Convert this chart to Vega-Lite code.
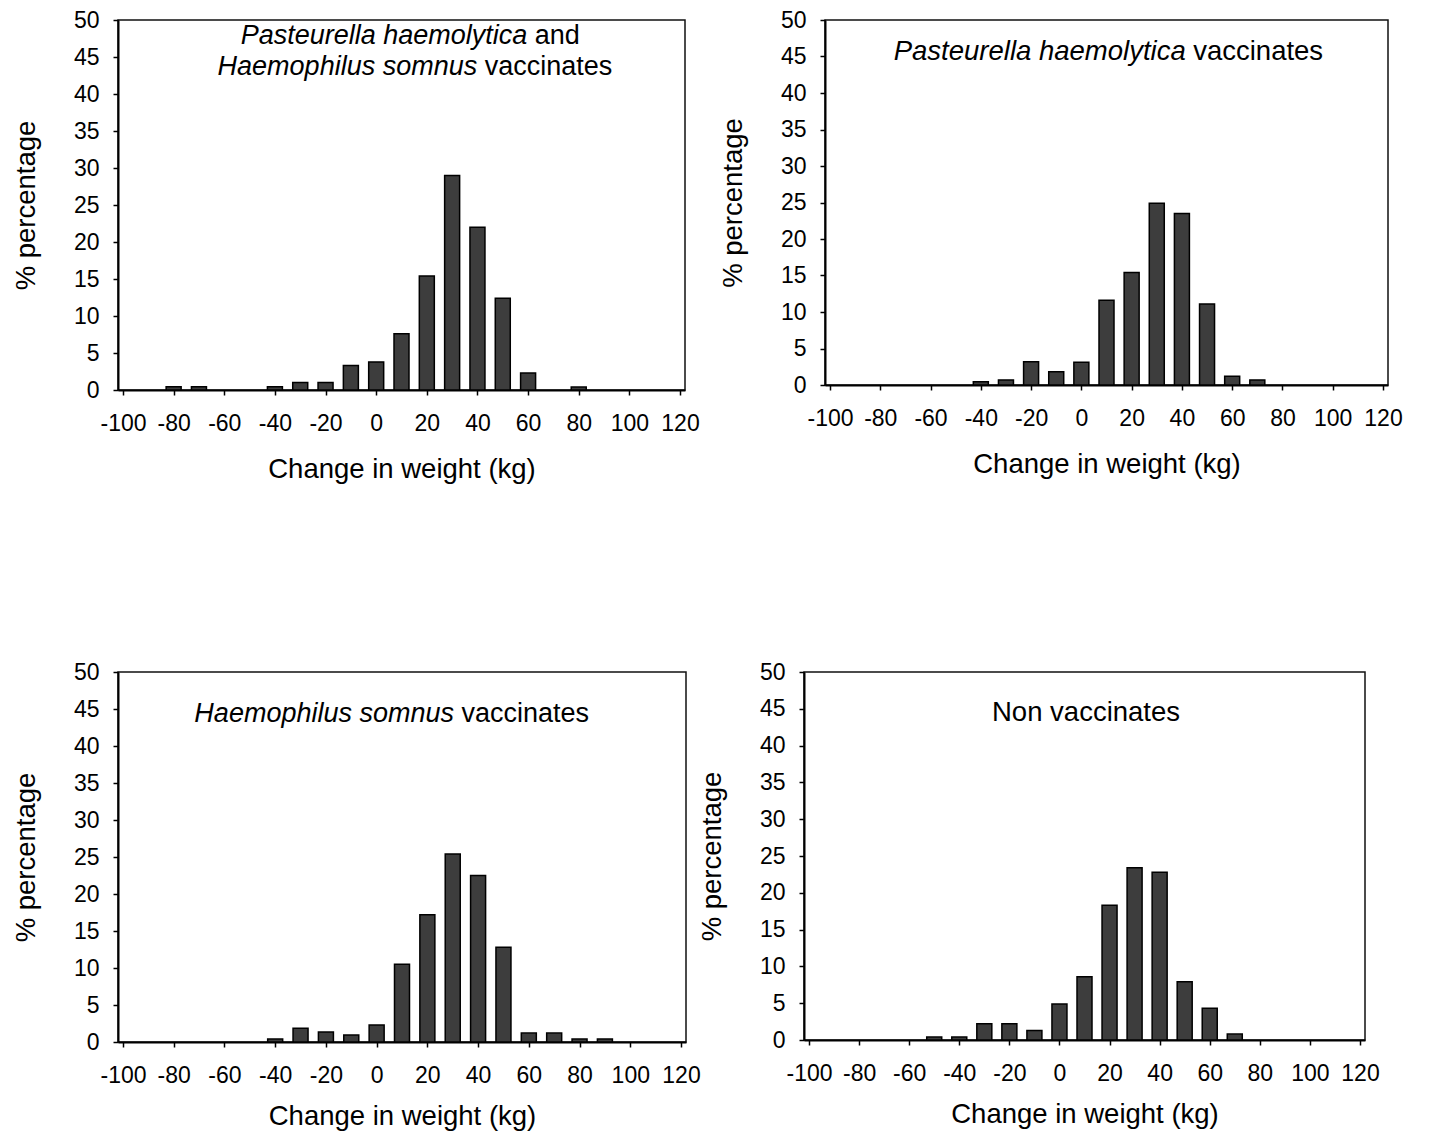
{
  "$schema": "https://vega.github.io/schema/vega-lite/v6.json",
  "background": "white",
  "padding": {"left": 11, "top": 8, "right": 5, "bottom": 0},
  "datasets": {
    "bars": [
      {"panel": 1, "change": -80, "pct": 0.45},
      {"panel": 1, "change": -70, "pct": 0.45},
      {"panel": 1, "change": -40, "pct": 0.45},
      {"panel": 1, "change": -30, "pct": 1.0},
      {"panel": 1, "change": -20, "pct": 1.0},
      {"panel": 1, "change": -10, "pct": 3.3},
      {"panel": 1, "change": 0, "pct": 3.8},
      {"panel": 1, "change": 10, "pct": 7.6},
      {"panel": 1, "change": 20, "pct": 15.4},
      {"panel": 1, "change": 30, "pct": 29.0},
      {"panel": 1, "change": 40, "pct": 22.0},
      {"panel": 1, "change": 50, "pct": 12.4},
      {"panel": 1, "change": 60, "pct": 2.3},
      {"panel": 1, "change": 80, "pct": 0.4},
      {"panel": 2, "change": -40, "pct": 0.45},
      {"panel": 2, "change": -30, "pct": 0.7},
      {"panel": 2, "change": -20, "pct": 3.2},
      {"panel": 2, "change": -10, "pct": 1.8},
      {"panel": 2, "change": 0, "pct": 3.1},
      {"panel": 2, "change": 10, "pct": 11.6},
      {"panel": 2, "change": 20, "pct": 15.4},
      {"panel": 2, "change": 30, "pct": 24.9},
      {"panel": 2, "change": 40, "pct": 23.5},
      {"panel": 2, "change": 50, "pct": 11.1},
      {"panel": 2, "change": 60, "pct": 1.2},
      {"panel": 2, "change": 70, "pct": 0.7},
      {"panel": 3, "change": -40, "pct": 0.4},
      {"panel": 3, "change": -30, "pct": 1.85},
      {"panel": 3, "change": -20, "pct": 1.35},
      {"panel": 3, "change": -10, "pct": 0.95},
      {"panel": 3, "change": 0, "pct": 2.3},
      {"panel": 3, "change": 10, "pct": 10.5},
      {"panel": 3, "change": 20, "pct": 17.2},
      {"panel": 3, "change": 30, "pct": 25.4},
      {"panel": 3, "change": 40, "pct": 22.5},
      {"panel": 3, "change": 50, "pct": 12.8},
      {"panel": 3, "change": 60, "pct": 1.2},
      {"panel": 3, "change": 70, "pct": 1.2},
      {"panel": 3, "change": 80, "pct": 0.4},
      {"panel": 3, "change": 90, "pct": 0.4},
      {"panel": 4, "change": -50, "pct": 0.4},
      {"panel": 4, "change": -40, "pct": 0.4},
      {"panel": 4, "change": -30, "pct": 2.2},
      {"panel": 4, "change": -20, "pct": 2.2},
      {"panel": 4, "change": -10, "pct": 1.3},
      {"panel": 4, "change": 0, "pct": 4.9},
      {"panel": 4, "change": 10, "pct": 8.6},
      {"panel": 4, "change": 20, "pct": 18.3},
      {"panel": 4, "change": 30, "pct": 23.4},
      {"panel": 4, "change": 40, "pct": 22.8},
      {"panel": 4, "change": 50, "pct": 7.9},
      {"panel": 4, "change": 60, "pct": 4.3},
      {"panel": 4, "change": 70, "pct": 0.8}
    ],
    "labels": [
      {"panel": 1, "style": "italic", "change": 59.7, "pct": 47.8, "text": "Pasteurella haemolytica"},
      {"panel": 1, "style": "normal", "change": 59.7, "pct": 47.8, "text": "and"},
      {"panel": 1, "style": "italic", "change": 39.9, "pct": 43.6, "text": "Haemophilus somnus"},
      {"panel": 1, "style": "normal", "change": 39.9, "pct": 43.6, "text": "vaccinates"},
      {"panel": 2, "style": "italic", "change": 41.5, "pct": 45.6, "text": "Pasteurella haemolytica"},
      {"panel": 2, "style": "normal", "change": 41.5, "pct": 45.6, "text": "vaccinates"},
      {"panel": 3, "style": "italic", "change": 30.5, "pct": 44.3, "text": "Haemophilus somnus"},
      {"panel": 3, "style": "normal", "change": 30.5, "pct": 44.3, "text": "vaccinates"},
      {"panel": 4, "style": "center", "change": 10.6, "pct": 44.4, "text": "Non vaccinates"}
    ]
  },
  "vconcat": [
    {
      "hconcat": [
        {
          "width": 567, "height": 370,
          "layer": [
            {
              "data": {"name": "bars"},
              "transform": [{"filter": "datum.panel == 1"}],
              "mark": {"type": "bar", "size": 15, "fill": "#3d3d3d", "stroke": "#000", "strokeWidth": 1.5},
              "encoding": {
                "x": {"field": "change", "type": "quantitative", "scale": {"domain": [-100, 120], "nice": false, "zero": false},
                  "axis": {"title": "Change in weight (kg)", "values": [-100, -80, -60, -40, -20, 0, 20, 40, 60, 80, 100, 120], "labelExpr": "datum.value < 0 ? '-' + abs(datum.value) : '' + datum.value", "labelFlush": false, "labelOverlap": false, "labelPadding": 17, "titlePadding": 20}},
                "y": {"field": "pct", "type": "quantitative", "scale": {"domain": [0, 50], "nice": false},
                  "axis": {"title": "% percentage", "values": [0, 5, 10, 15, 20, 25, 30, 35, 40, 45, 50], "tickCount": 11, "labelExpr": "'' + datum.value", "labelOverlap": false, "labelPadding": 14, "titlePadding": 33}}
              }
            },
            {
              "data": {"name": "labels"},
              "transform": [{"filter": "datum.panel == 1 && datum.style == 'italic'"}],
              "mark": {"type": "text", "align": "right", "baseline": "middle", "fontStyle": "italic", "fontSize": 27, "font": "Liberation Sans", "color": "#000"},
              "encoding": {"x": {"field": "change", "type": "quantitative"}, "y": {"field": "pct", "type": "quantitative"}, "text": {"field": "text"}}
            },
            {
              "data": {"name": "labels"},
              "transform": [{"filter": "datum.panel == 1 && datum.style == 'normal'"}],
              "mark": {"type": "text", "align": "left", "baseline": "middle", "dx": 7.5, "fontSize": 27, "font": "Liberation Sans", "color": "#000"},
              "encoding": {"x": {"field": "change", "type": "quantitative"}, "y": {"field": "pct", "type": "quantitative"}, "text": {"field": "text"}}
            }
          ]
        },
        {
          "width": 563, "height": 365,
          "layer": [
            {
              "data": {"name": "bars"},
              "transform": [{"filter": "datum.panel == 2"}],
              "mark": {"type": "bar", "size": 15, "fill": "#3d3d3d", "stroke": "#000", "strokeWidth": 1.5},
              "encoding": {
                "x": {"field": "change", "type": "quantitative", "scale": {"domain": [-100, 120], "nice": false, "zero": false},
                  "axis": {"title": "Change in weight (kg)", "values": [-100, -80, -60, -40, -20, 0, 20, 40, 60, 80, 100, 120], "labelExpr": "datum.value < 0 ? '-' + abs(datum.value) : '' + datum.value", "labelFlush": false, "labelOverlap": false, "labelPadding": 17, "titlePadding": 20}},
                "y": {"field": "pct", "type": "quantitative", "scale": {"domain": [0, 50], "nice": false},
                  "axis": {"title": "% percentage", "values": [0, 5, 10, 15, 20, 25, 30, 35, 40, 45, 50], "tickCount": 11, "labelExpr": "'' + datum.value", "labelOverlap": false, "labelPadding": 14, "titlePadding": 33}}
              }
            },
            {
              "data": {"name": "labels"},
              "transform": [{"filter": "datum.panel == 2 && datum.style == 'italic'"}],
              "mark": {"type": "text", "align": "right", "baseline": "middle", "fontStyle": "italic", "fontSize": 27.5, "font": "Liberation Sans", "color": "#000"},
              "encoding": {"x": {"field": "change", "type": "quantitative"}, "y": {"field": "pct", "type": "quantitative"}, "text": {"field": "text"}}
            },
            {
              "data": {"name": "labels"},
              "transform": [{"filter": "datum.panel == 2 && datum.style == 'normal'"}],
              "mark": {"type": "text", "align": "left", "baseline": "middle", "dx": 7.5, "fontSize": 27.5, "font": "Liberation Sans", "color": "#000"},
              "encoding": {"x": {"field": "change", "type": "quantitative"}, "y": {"field": "pct", "type": "quantitative"}, "text": {"field": "text"}}
            }
          ]
        }
      ],
      "spacing": 140,
      "bounds": "flush"
    },
    {
      "hconcat": [
        {
          "width": 568, "height": 370,
          "layer": [
            {
              "data": {"name": "bars"},
              "transform": [{"filter": "datum.panel == 3"}],
              "mark": {"type": "bar", "size": 15, "fill": "#3d3d3d", "stroke": "#000", "strokeWidth": 1.5},
              "encoding": {
                "x": {"field": "change", "type": "quantitative", "scale": {"domain": [-100, 120], "nice": false, "zero": false},
                  "axis": {"title": "Change in weight (kg)", "values": [-100, -80, -60, -40, -20, 0, 20, 40, 60, 80, 100, 120], "labelExpr": "datum.value < 0 ? '-' + abs(datum.value) : '' + datum.value", "labelFlush": false, "labelOverlap": false, "labelPadding": 17, "titlePadding": 15}},
                "y": {"field": "pct", "type": "quantitative", "scale": {"domain": [0, 50], "nice": false},
                  "axis": {"title": "% percentage", "values": [0, 5, 10, 15, 20, 25, 30, 35, 40, 45, 50], "tickCount": 11, "labelExpr": "'' + datum.value", "labelOverlap": false, "labelPadding": 14, "titlePadding": 33}}
              }
            },
            {
              "data": {"name": "labels"},
              "transform": [{"filter": "datum.panel == 3 && datum.style == 'italic'"}],
              "mark": {"type": "text", "align": "right", "baseline": "middle", "fontStyle": "italic", "fontSize": 27, "font": "Liberation Sans", "color": "#000"},
              "encoding": {"x": {"field": "change", "type": "quantitative"}, "y": {"field": "pct", "type": "quantitative"}, "text": {"field": "text"}}
            },
            {
              "data": {"name": "labels"},
              "transform": [{"filter": "datum.panel == 3 && datum.style == 'normal'"}],
              "mark": {"type": "text", "align": "left", "baseline": "middle", "dx": 7.5, "fontSize": 27, "font": "Liberation Sans", "color": "#000"},
              "encoding": {"x": {"field": "change", "type": "quantitative"}, "y": {"field": "pct", "type": "quantitative"}, "text": {"field": "text"}}
            }
          ]
        },
        {
          "width": 561, "height": 368,
          "layer": [
            {
              "data": {"name": "bars"},
              "transform": [{"filter": "datum.panel == 4"}],
              "mark": {"type": "bar", "size": 15, "fill": "#3d3d3d", "stroke": "#000", "strokeWidth": 1.5},
              "encoding": {
                "x": {"field": "change", "type": "quantitative", "scale": {"domain": [-100, 120], "nice": false, "zero": false},
                  "axis": {"title": "Change in weight (kg)", "values": [-100, -80, -60, -40, -20, 0, 20, 40, 60, 80, 100, 120], "labelExpr": "datum.value < 0 ? '-' + abs(datum.value) : '' + datum.value", "labelFlush": false, "labelOverlap": false, "labelPadding": 17, "titlePadding": 15}},
                "y": {"field": "pct", "type": "quantitative", "scale": {"domain": [0, 50], "nice": false},
                  "axis": {"title": "% percentage", "values": [0, 5, 10, 15, 20, 25, 30, 35, 40, 45, 50], "tickCount": 11, "labelExpr": "'' + datum.value", "labelOverlap": false, "labelPadding": 14, "titlePadding": 33}}
              }
            },
            {
              "data": {"name": "labels"},
              "transform": [{"filter": "datum.panel == 4 && datum.style == 'center'"}],
              "mark": {"type": "text", "align": "center", "baseline": "middle", "fontSize": 27.5, "font": "Liberation Sans", "color": "#000"},
              "encoding": {"x": {"field": "change", "type": "quantitative"}, "y": {"field": "pct", "type": "quantitative"}, "text": {"field": "text"}}
            }
          ]
        }
      ],
      "spacing": 118,
      "bounds": "flush"
    }
  ],
  "spacing": 652,
  "bounds": "flush",
  "config": {
    "font": "Liberation Sans",
    "view": {"stroke": "#111", "strokeWidth": 1.5},
    "axis": {
      "grid": false,
      "labelOverlap": false,
      "labelFont": "Liberation Sans",
      "titleFont": "Liberation Sans",
      "labelFontSize": 23,
      "titleFontSize": 27.5,
      "titleFontWeight": "normal",
      "labelColor": "#000",
      "titleColor": "#000",
      "domainColor": "#000",
      "tickColor": "#000",
      "domainWidth": 2,
      "tickSize": 5,
      "tickWidth": 1.5
    }
  }
}
